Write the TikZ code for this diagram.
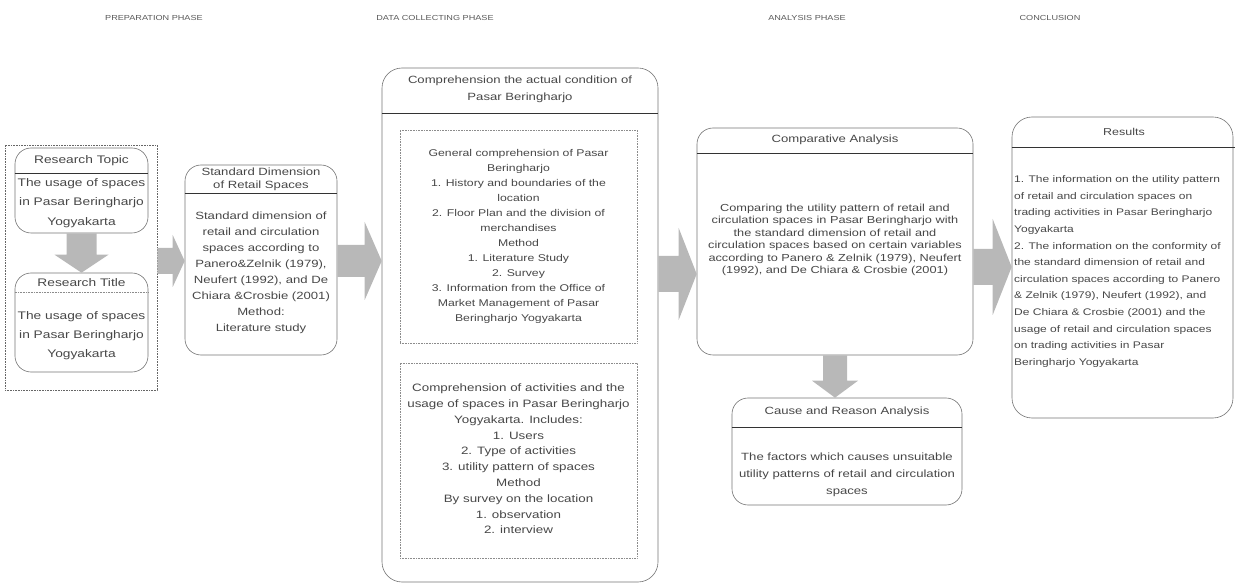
\documentclass[tikz,border=0pt]{standalone}
\usepackage{fontspec}
\setmainfont[FakeStretch=1.25]{Liberation Sans}
\usetikzlibrary{calc}
\newcommand\fs[2]{\fontsize{#1}{#2}\selectfont}
% horizontal block arrow: start, end, shaft half, head half, head length
\newcommand\harr[5]{\fill[arw] let \p1=#1, \p2=#2 in
  (\x1,\y1+#3pt) -- (\x2-#5pt,\y1+#3pt) -- (\x2-#5pt,\y1+#4pt) -- (\x2,\y1) --
  (\x2-#5pt,\y1-#4pt) -- (\x2-#5pt,\y1-#3pt) -- (\x1,\y1-#3pt) -- cycle;}
% vertical (downward) block arrow
\newcommand\varr[5]{\fill[arw] let \p1=#1, \p2=#2 in
  (\x1-#3pt,\y1) -- (\x1-#3pt,\y2+#5pt) -- (\x1-#4pt,\y2+#5pt) -- (\x1,\y2) --
  (\x1+#4pt,\y2+#5pt) -- (\x1+#3pt,\y2+#5pt) -- (\x1+#3pt,\y1) -- cycle;}
\begin{document}
\begin{tikzpicture}[x=1pt,y=-1pt,
  box/.style={draw=black!55, line width=0.6pt, rounded corners=16pt, inner sep=0pt},
  sqbox/.style={draw=black!60, line width=0.6pt, densely dotted, inner sep=0pt},
  ibox/.style={draw=black!45, line width=0.6pt, densely dotted, inner sep=0pt},
  hdr/.style={draw=black!80, line width=0.8pt},
  txt/.style={text=black!72, inner sep=0pt, align=center},
  ltxt/.style={text=black!72, inner sep=0pt, align=left},
  phase/.style={text=black!65, inner sep=0pt, font=\fs{7.3}{8}},
  arw/.style={fill=black!28}]
\useasboundingbox (0,0) rectangle (1235,585);
\clip (0,0) rectangle (1235,585);

% phase titles
\node[phase] (p1) at (154,18) {PREPARATION PHASE};
\node[phase] (p2) at (435,18) {DATA COLLECTING PHASE};
\node[phase] (p3) at (807,18) {ANALYSIS PHASE};
\node[phase] (p4) at (1050,18) {CONCLUSION};

% preparation
\node[sqbox, minimum width=152pt, minimum height=245pt] (lt) at (81,267.5) {};
\node[box, minimum width=133pt, minimum height=85pt] (rt) at (81.5,190.5) {};
\draw[hdr] (rt.west |- 0,173) -- (rt.east |- 0,173);
\node[txt, font=\fs{11}{13}] (rth) at (81.5,161) {Research Topic};
\node[txt, font=\fs{11}{19.5}] (rtb) at (81.5,203) {The usage of spaces\\in Pasar Beringharjo\\Yogyakarta};
\node[box, minimum width=133pt, minimum height=99pt] (rtl) at (81.5,322.5) {};
\draw[ibox] (rtl.west |- 0,292) -- (rtl.east |- 0,292);
\node[txt, font=\fs{11}{13}] (rtlh) at (81.5,283) {Research Title};
\node[txt, font=\fs{11}{19}] (rtlb) at (81.5,336) {The usage of spaces\\in Pasar Beringharjo\\Yogyakarta};
\varr{(rt.south)}{(rtl.north)}{15}{27}{18}

% standard dimension
\node[box, minimum width=152pt, minimum height=190pt] (sd) at (261,260) {};
\draw[hdr] (sd.west |- 0,193) -- (sd.east |- 0,193);
\node[txt, font=\fs{10.5}{13}] (sdh) at (261,179) {Standard Dimension\\of Retail Spaces};
\node[txt, font=\fs{10.5}{16}] (sdb) at (261,272.5) {Standard dimension of\\retail and circulation\\spaces according to\\Panero\&Zelnik (1979),\\Neufert (1992), and De\\Chiara \&Crosbie (2001)\\Method:\\Literature study};
\harr{(lt.east |- 0,261)}{(sd.west)}{13}{26}{12}

% data collecting
\node[box, rounded corners=20pt, minimum width=276pt, minimum height=514pt] (dc) at (520,325) {};
\draw[hdr] (dc.west |- 0,113) -- (dc.east |- 0,113);
\node[txt, font=\fs{10.5}{17}] (dch) at (520,89) {Comprehension the actual condition of\\Pasar Beringharjo};
\node[ibox, minimum width=237pt, minimum height=213pt] (in1) at (518.5,236.5) {};
\node[txt, font=\fs{9.8}{15}] (in1b) at (518.5,236.5) {General comprehension of Pasar\\Beringharjo\\1. History and boundaries of the\\location\\2. Floor Plan and the division of\\merchandises\\Method\\1. Literature Study\\2. Survey\\3. Information from the Office of\\Market Management of Pasar\\Beringharjo Yogyakarta};
\node[ibox, minimum width=237pt, minimum height=195pt] (in2) at (518.5,460.5) {};
\node[txt, font=\fs{10.7}{15.8}] (in2b) at (518.5,459) {Comprehension of activities and the\\usage of spaces in Pasar Beringharjo\\Yogyakarta. Includes:\\1. Users\\2. Type of activities\\3. utility pattern of spaces\\Method\\By survey on the location\\1. observation\\2. interview};
\harr{(sd.east |- 0,261)}{(dc.west)}{16}{39}{17}

% analysis
\node[box, minimum width=276pt, minimum height=227pt] (ca) at (835,241.5) {};
\draw[hdr] (ca.west |- 0,153) -- (ca.east |- 0,153);
\node[txt, font=\fs{10.5}{13}] (cah) at (835,140) {Comparative Analysis};
\node[txt, font=\fs{10.2}{12.5}] (cab) at (835,240) {Comparing the utility pattern of retail and\\circulation spaces in Pasar Beringharjo with\\the standard dimension of retail and\\circulation spaces based on certain variables\\according to Panero \& Zelnik (1979), Neufert\\(1992), and De Chiara \& Crosbie (2001)};
\harr{(dc.east |- 0,274)}{(ca.west)}{18}{46}{18}

\node[box, minimum width=230pt, minimum height=107pt] (cr) at (847,451.5) {};
\draw[hdr] (cr.west |- 0,427) -- (cr.east |- 0,427);
\node[txt, font=\fs{10.5}{13}] (crh) at (847,412) {Cause and Reason Analysis};
\node[txt, font=\fs{10.5}{17}] (crb) at (847,475) {The factors which causes unsuitable\\utility patterns of retail and circulation\\spaces};
\varr{(ca.south)}{(cr.north)}{12}{23}{17}

% conclusion
\node[box, rounded corners=20pt, minimum width=221pt, minimum height=301pt] (rs) at (1122.5,267.5) {};
\draw[hdr] (rs.west |- 0,147) -- (1240,147);
\node[txt, font=\fs{10}{12}] (rsh) at (1124,132) {Results};
\node[ltxt, font=\fs{9.6}{16.6}, anchor=west] (rsb) at (1014,271.5) {1. The information on the utility pattern\\of retail and circulation spaces on\\trading activities in Pasar Beringharjo\\Yogyakarta\\2. The information on the conformity of\\the standard dimension of retail and\\circulation spaces according to Panero\\\& Zelnik (1979), Neufert (1992), and\\De Chiara \& Crosbie (2001) and the\\usage of retail and circulation spaces\\on trading activities in Pasar\\Beringharjo Yogyakarta};
\harr{(ca.east |- 0,267)}{(rs.west)}{18}{48}{19}
\end{tikzpicture}
\end{document}
